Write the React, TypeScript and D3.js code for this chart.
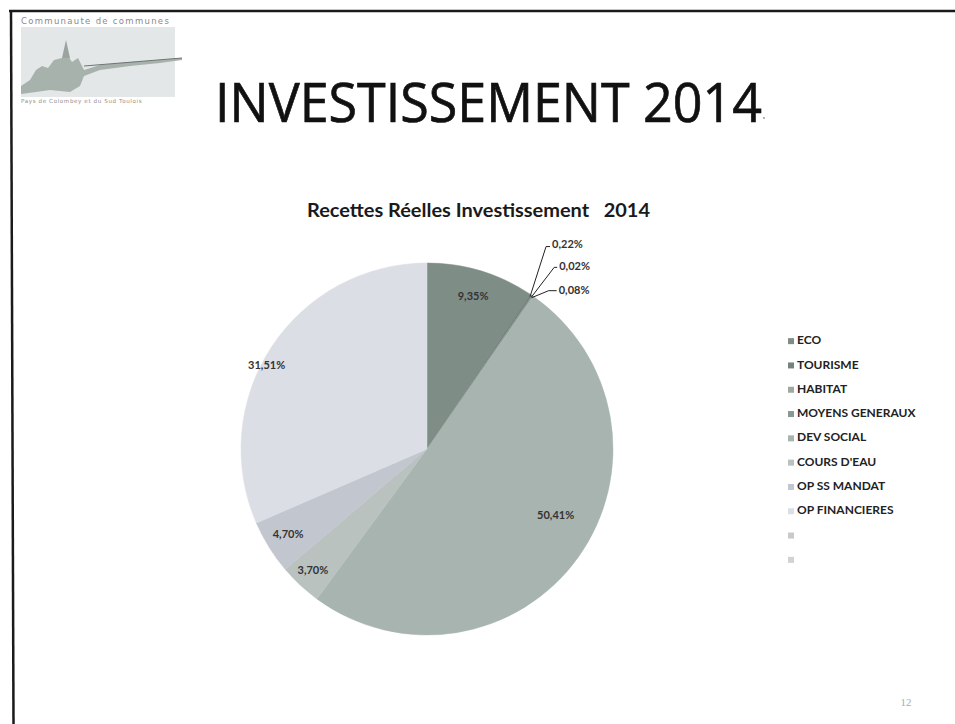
import React from "react";
import * as d3 from "d3";

const categories = [
  "ECO",
  "TOURISME",
  "HABITAT",
  "MOYENS GENERAUX",
  "DEV SOCIAL",
  "COURS D'EAU",
  "OP SS MANDAT",
  "OP FINANCIERES",
  "",
  "",
];
const values = [9.35, 0.22, 0.02, 0.08, 50.41, 3.7, 4.7, 31.51, 0, 0];
const colors = [
  "#7f8d87",
  "#74847d",
  "#9ea9a4",
  "#8b9792",
  "#a7b4af",
  "#b9c2bf",
  "#c2c7cf",
  "#dbdee5",
  "#c6cbca",
  "#cfd3d4",
];

const W = 955;
const H = 724;
const cx = 427;
const cy = 449;
const R = 186;

// label placement: radius factor and angle nudge (degrees)
const labelPlace: Record<number, { r: number; da: number }> = {
  0: { r: 0.855, da: 0 },
  4: { r: 0.78, da: -8 },
  5: { r: 0.9, da: 0 },
  6: { r: 0.88, da: 0 },
  7: { r: 0.97, da: -6 },
};
// leader labels for tiny slices: elbow offsets from edge point
const leaders: Record<number, { ex: number; ey: number; tx: number; ty: number }> = {
  1: { ex: 16, ey: -50, tx: 20, ty: -51 },
  2: { ex: 23, ey: -30, tx: 26, ty: -30 },
  3: { ex: 17, ey: -7, tx: 25, ty: -7 },
};

const fmt = (v: number) => v.toFixed(2).replace(".", ",") + "%";

export default function App() {
  const pie = d3
    .pie<number>()
    .sort(null)
    .value((d) => d)(values);
  const arc = d3.arc<d3.PieArcDatum<number>>().innerRadius(0).outerRadius(R);

  const legendY = d3
    .scaleBand<number>()
    .domain(d3.range(categories.length))
    .range([329, 572]);

  const posAt = (a: number, r: number) => [Math.sin(a) * r, -Math.cos(a) * r];

  return (
    <svg
      width={W}
      height={H}
      style={{ position: "absolute", left: 0, top: 0, background: "#fff" }}
      fontFamily="Lato, 'Open Sans', sans-serif"
    >
      <rect width={W} height={H} fill="#ffffff" />
      {/* slide frame */}
      <line x1={9} y1={11} x2={W} y2={11} stroke="#1a1a1a" strokeWidth={2.5} />
      <line x1={11} y1={10} x2={13.5} y2={H} stroke="#1a1a1a" strokeWidth={2.5} />

      {/* logo */}
      <g>
        <text x={21} y={24} fontSize={8.5} fill="#8a8a8a" letterSpacing={1.3} fontFamily="'DejaVu Sans', sans-serif">
          Communaute de communes
        </text>
        <rect x={21} y={27} width={154} height={70} fill="#e4e7e8" />
        <path
          d="M21,86 L30,80 L36,70 L42,66 L48,68 L54,60 L62,58 L68,56 L72,62 L78,58 L84,70 L100,65 L130,62 L160,60 L182,58 L182,60 L160,63 L130,66 L100,70 L84,76 L80,86 L70,92 L50,90 L36,92 L21,94 Z"
          fill="#a7b2ad"
        />
        <path d="M62,58 L66,40 L70,58 Z" fill="#9aa39f" />
        <line x1={84} y1={66} x2={182} y2={58} stroke="#6f7572" strokeWidth={1.2} />
        <text x={21} y={103} fontSize={5.6} fill="#8f8f8f" letterSpacing={0.6} fontFamily="'DejaVu Sans', sans-serif">
          Pays de Colombey et du Sud Toulois
        </text>
      </g>

      {/* slide title */}
      <text
        x={215}
        y={122}
        fontSize={55}
        fill="#111"
        stroke="#111"
        strokeWidth={0.7}
        fontFamily="'Open Sans', sans-serif"
        textLength={547}
        lengthAdjust="spacingAndGlyphs"
      >
        INVESTISSEMENT 2014
      </text>
      <circle cx={764} cy={118} r={0.8} fill="#555" />

      {/* chart title */}
      <text
        x={307}
        y={217}
        fontSize={19}
        fontWeight="bold"
        fill="#1a1a1a"
        textLength={343}
        lengthAdjust="spacingAndGlyphs"
        style={{ whiteSpace: "pre" }}
      >
        {"Recettes Réelles Investissement   2014"}
      </text>

      {/* pie */}
      <g transform={`translate(${cx},${cy})`}>
        {pie.map((p, i) =>
          p.value > 0 ? (
            <path key={i} d={arc(p) || ""} fill={colors[i]} stroke={colors[i]} strokeWidth={0.5} />
          ) : null
        )}
        {pie.map((p, i) => {
          const lp = labelPlace[i];
          if (!lp) return null;
          const a = (p.startAngle + p.endAngle) / 2 + (lp.da * Math.PI) / 180;
          const [x, y] = posAt(a, R * lp.r);
          return (
            <text
              key={"l" + i}
              x={x}
              y={y}
              fontSize={11}
              fontWeight="bold"
              fill="#333"
              textAnchor="middle"
              dominantBaseline="middle"
            >
              {fmt(p.value)}
            </text>
          );
        })}
        {pie.map((p, i) => {
          const ld = leaders[i];
          if (!ld) return null;
          const a = (p.startAngle + p.endAngle) / 2;
          const [x0, y0] = posAt(a, R - 2);
          return (
            <g key={"ld" + i}>
              <polyline
                points={`${x0},${y0} ${x0 + ld.ex},${y0 + ld.ey} ${x0 + ld.tx},${y0 + ld.ey}`}
                fill="none"
                stroke="#222"
                strokeWidth={1}
              />
              <text
                x={x0 + ld.tx + 2}
                y={y0 + ld.ty}
                fontSize={11}
                fontWeight="bold"
                fill="#333"
                dominantBaseline="middle"
              >
                {fmt(p.value)}
              </text>
            </g>
          );
        })}
      </g>

      {/* legend */}
      {categories.map((c, i) => {
        const y = (legendY(i) || 0) + legendY.bandwidth() / 2;
        return (
          <g key={"lg" + i}>
            <rect x={788} y={y - 3} width={6} height={6} fill={colors[i]} />
            <text x={797} y={y} fontSize={12} fontWeight="bold" fill="#222" dominantBaseline="middle">
              {c}
            </text>
          </g>
        );
      })}

      {/* slide number */}
      <text x={906} y={706} fontSize={11} fill="#aaa" textAnchor="middle" fontFamily="'Liberation Serif', serif">
        12
      </text>
    </svg>
  );
}
